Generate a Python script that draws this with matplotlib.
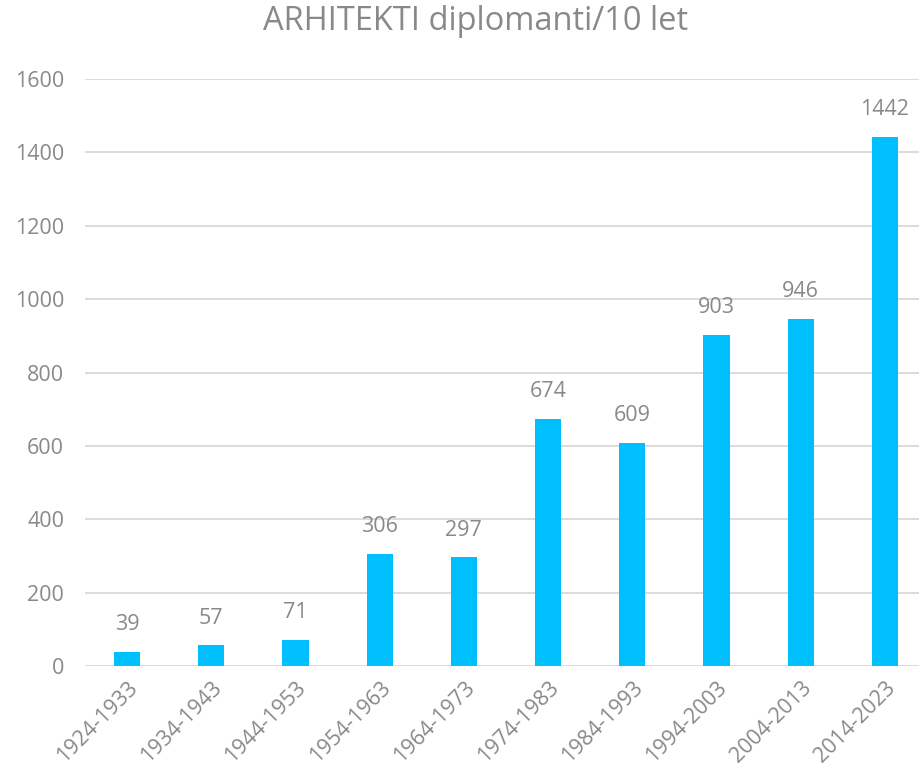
import matplotlib
matplotlib.use("Agg")
import matplotlib.pyplot as plt

periods = ["1924-1933", "1934-1943", "1944-1953", "1954-1963", "1964-1973",
           "1974-1983", "1984-1993", "1994-2003", "2004-2013", "2014-2023"]
graduates = [39, 57, 71, 306, 297, 674, 609, 903, 946, 1442]
yticks = [0, 200, 400, 600, 800, 1000, 1200, 1400, 1600]

grey = "#898989"
plt.rcParams['font.family'] = ['Open Sans', 'DejaVu Sans']

fig = plt.figure(figsize=(9.2, 7.76), dpi=100)
ax = fig.add_axes([85 / 920, 110 / 776, 842 / 920, 587 / 776])

x = range(len(periods))
bars = ax.bar(x, graduates, width=0.31, color="#00bfff", zorder=3)

for b, v in zip(bars, graduates):
    ax.text(b.get_x() + b.get_width() / 2, v + 45, str(v), ha="center", va="bottom",
            fontsize=15.5, color=grey)

ax.set_xlim(-0.5, len(periods) - 0.5)
ax.set_ylim(0, 1600)
ax.set_yticks(yticks)
ax.set_xticks(list(x))
ax.set_xticklabels(periods, rotation=45, ha="right", rotation_mode="anchor")
ax.tick_params(axis="both", length=0, labelsize=15.5, labelcolor=grey)
ax.tick_params(axis="y", pad=15)
ax.tick_params(axis="x", pad=8)
ax.grid(axis="y", color="#d9d9d9", linewidth=1.3, zorder=0)
for s in ax.spines.values():
    s.set_visible(False)

fig.text(476 / 920, 1 - 22 / 776, "ARHITEKTI diplomanti/10 let", ha="center", va="center",
         fontsize=23.5, color=grey)

fig.savefig("out.png", dpi=100)
